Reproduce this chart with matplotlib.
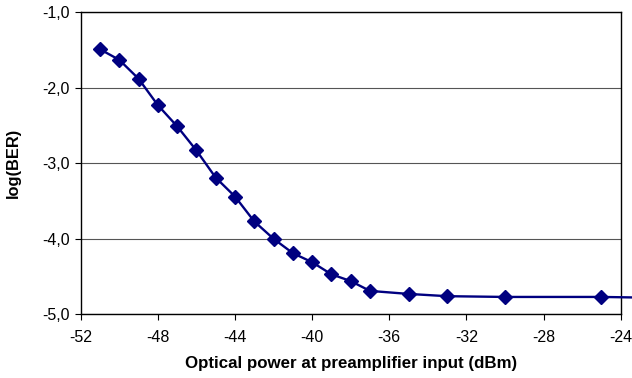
import matplotlib.pyplot as plt
import matplotlib.ticker as mticker

# Measured BER vs optical power at the preamplifier input
power_dbm = [-51, -50, -49, -48, -47, -46, -45, -44, -43, -42, -41, -40,
             -39, -38, -37, -35, -33, -30, -25, -20]
log_ber = [-1.49, -1.63, -1.88, -2.23, -2.51, -2.83, -3.19, -3.44, -3.77,
           -4.00, -4.19, -4.31, -4.47, -4.56, -4.69, -4.73, -4.76, -4.77,
           -4.77, -4.79]

x_ticks = [-52, -48, -44, -40, -36, -32, -28, -24]
y_ticks = [-5, -4, -3, -2, -1]

plt.rcParams["font.family"] = ["Liberation Sans", "DejaVu Sans"]
plt.rcParams["axes.unicode_minus"] = False

fig = plt.figure(figsize=(6.32, 3.78), dpi=100)
ax = fig.add_axes([0.1277, 0.1685, 0.8544, 0.799])

ax.plot(power_dbm, log_ber, color="#000080", linewidth=1.7,
        marker="D", markersize=6.8, markerfacecolor="#000080",
        markeredgecolor="#000080", clip_on=False, zorder=3)

ax.set_xlim(-52, -24)
ax.set_ylim(-5, -1)
ax.set_xticks(x_ticks)
ax.set_yticks(y_ticks)
ax.yaxis.set_major_formatter(
    mticker.FuncFormatter(lambda v, p: f"{v:.1f}".replace(".", ",")))

ax.grid(axis="y", color="#555555", linewidth=0.8)
ax.set_axisbelow(True)
for s in ax.spines.values():
    s.set_color("black")
    s.set_linewidth(1.0)

ax.tick_params(axis="both", direction="out", length=4, width=0.8,
               labelsize=11.5, colors="black")
ax.tick_params(axis="x", pad=7)
ax.tick_params(axis="y", pad=4)

ax.set_xlabel("Optical power at preamplifier input (dBm)", fontsize=12.2,
              fontweight="bold", labelpad=8)
ax.set_ylabel("log(BER)", fontsize=11.8, fontweight="bold", labelpad=15)

fig.savefig("out.png", dpi=100)
